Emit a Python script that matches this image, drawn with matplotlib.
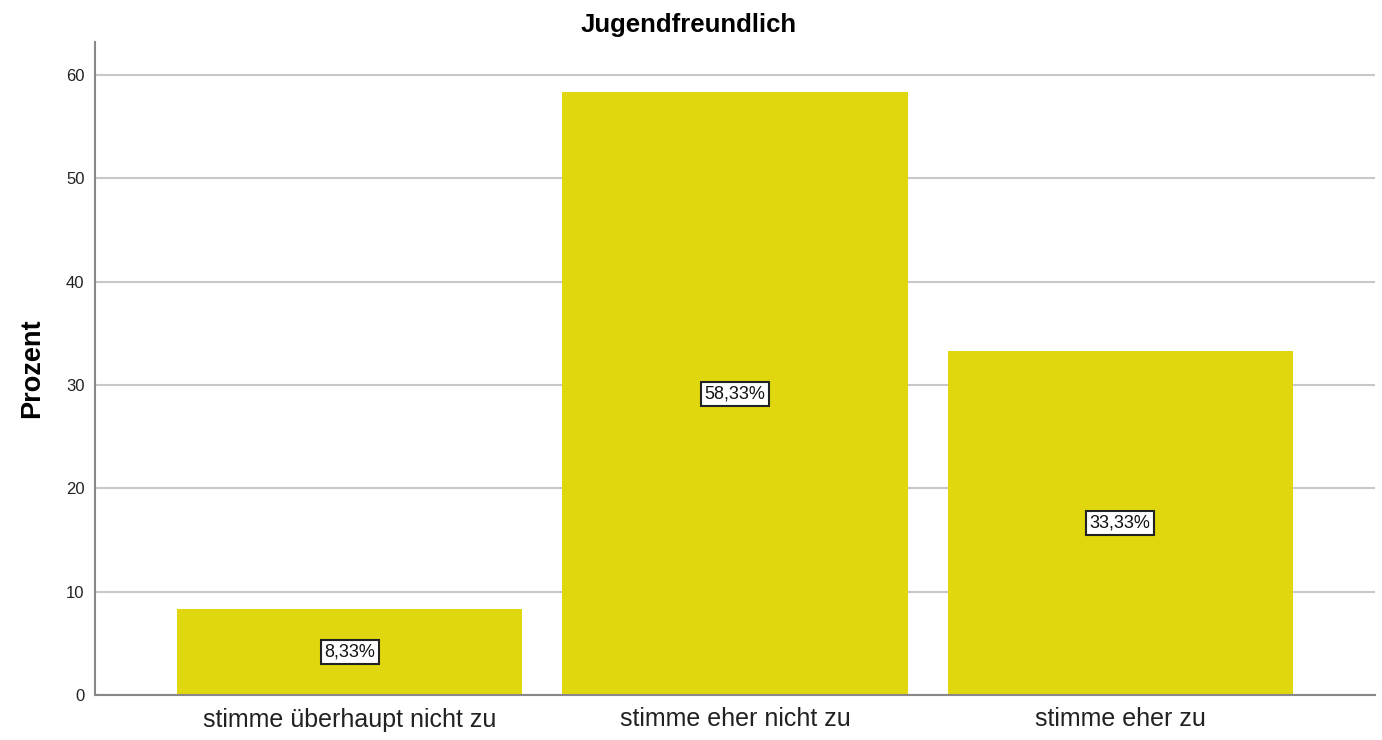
import matplotlib
matplotlib.use("Agg")
import matplotlib.pyplot as plt

categories = ["stimme überhaupt nicht zu", "stimme eher nicht zu", "stimme eher zu"]
values = [8.33, 58.33, 33.33]
labels = ["8,33%", "58,33%", "33,33%"]
yticks = [0, 10, 20, 30, 40, 50, 60]

plt.rcParams['font.family'] = ['Liberation Sans', 'DejaVu Sans']

fig = plt.figure(figsize=(13.82, 7.40), dpi=100)
ax = fig.add_axes([95/1382, 45/740, (1375-95)/1382, (695-42)/740])

x = list(range(len(categories)))
ax.bar(x, values, width=0.896, color="#E1D70F", zorder=2)
for xi, v, lab in zip(x, values, labels):
    ax.text(xi, v/2, lab, ha="center", va="center", fontsize=13, zorder=3,
            color="#111111",
            bbox=dict(boxstyle="square,pad=0.2", fc="white", ec="#222222", lw=1.5))

ax.set_xlim(-0.662, 2.662)
ax.set_ylim(0, 63.2)
ax.set_yticks(yticks)
ax.set_yticklabels([str(t) for t in yticks], fontsize=12, color="#222222")
ax.set_xticks(x)
ax.set_xticklabels(categories, fontsize=18, color="#222222")
ax.tick_params(axis="y", length=0, pad=7.5)
ax.tick_params(axis="x", length=0, pad=9)
ax.yaxis.grid(True, color="#C8C8C8", lw=1.5, zorder=0)
ax.set_axisbelow(True)
for s in ["top", "right"]:
    ax.spines[s].set_visible(False)
for s in ["left", "bottom"]:
    ax.spines[s].set_color("#888888")
    ax.spines[s].set_linewidth(1.5)
ax.set_ylabel("Prozent", fontsize=19.5, fontweight="bold", labelpad=15)
fig.text(689/1382, 1 - 32/740, "Jugendfreundlich", ha="center", va="baseline",
         fontsize=18.5, fontweight="bold")

fig.savefig("out.png", dpi=100, facecolor="white")
